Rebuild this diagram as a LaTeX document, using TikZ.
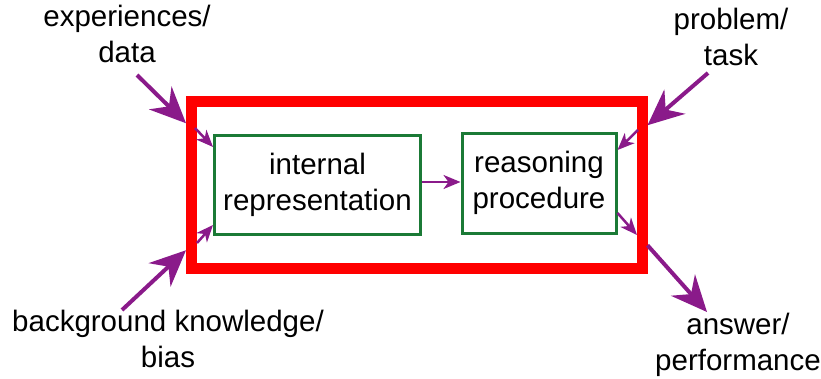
\documentclass[tikz,border=0pt]{standalone}
\usepackage{fontspec}
\setmainfont{Liberation Sans}
\usetikzlibrary{arrows.meta}
\definecolor{framered}{HTML}{FF0000}
\definecolor{boxgreen}{HTML}{1B7A36}
\definecolor{flow}{HTML}{8A1A8A}
\begin{document}
\begin{tikzpicture}[x=1pt,y=-1pt,
  txt/.style={font=\fontsize{29.5}{36}\selectfont},
  lbl/.style={txt, align=center, inner sep=0pt, anchor=base},
  agent/.style={draw=framered, line width=11pt, minimum width=450.5pt,
    minimum height=166.5pt, inner sep=0pt},
  stage/.style={draw=boxgreen, line width=3pt, inner sep=0pt, txt, align=center},
  bigarrow/.style={draw=flow, line width=4pt,
    -{Stealth[length=36pt,width=32pt,inset=12pt]}},
  smallarrow/.style={draw=flow, line width=2.5pt,
    -{Stealth[length=17pt,width=14pt,inset=5pt]}}]
\useasboundingbox (0,0) rectangle (821,378);

% the agent and its two stages
\node[agent] (agent) at (416.75,184.75) {};
\node[stage, minimum width=206pt, minimum height=99pt] (repr) at (317.5,185)
  {internal\\representation};
\node[stage, minimum width=154pt, minimum height=100pt] (proc) at (539,183)
  {reasoning\\procedure};

% outside inputs and output (anchored on the last line's baseline)
\node[lbl] (exp) at (127,62) {experiences/\\data};
\node[lbl] (prob) at (731,65) {problem/\\task};
\node[lbl] (bg) at (168,367) {background knowledge/\\bias};
\node[lbl] (ans) at (738,370) {answer/\\performance};

% loose ends of the arrows
\coordinate (expend) at (137,75);
\coordinate (probend) at (708,73);
\coordinate (bgend) at (122,310);
\coordinate (ansend) at (707,312);
\coordinate (expin) at (195,128);
\coordinate (probin) at (638,130);
\coordinate (bgin) at (197,243);
\coordinate (ansout) at (637,235);

% experiences/data
\draw[bigarrow] (expend) -- ([yshift=61.5pt]agent.west);
\draw[smallarrow] (expin) -- ([yshift=38pt]repr.west);
% problem/task
\draw[bigarrow] (probend) -- ([yshift=59.5pt]agent.east);
\draw[smallarrow] (probin) -- ([yshift=33pt]proc.east);
% background knowledge/bias
\draw[bigarrow] (bgend) -- ([yshift=-65.5pt]agent.west);
\draw[smallarrow] (bgin) -- ([yshift=-40pt]repr.west);
% answer/performance
\draw[smallarrow] ([yshift=-30pt]proc.east) -- (ansout);
\draw[bigarrow] ([yshift=-60.5pt]agent.east) -- (ansend);
% representation feeds the reasoning
\draw[smallarrow] ([yshift=3pt]repr.east) -- ([yshift=1pt]proc.west);
\end{tikzpicture}
\end{document}
